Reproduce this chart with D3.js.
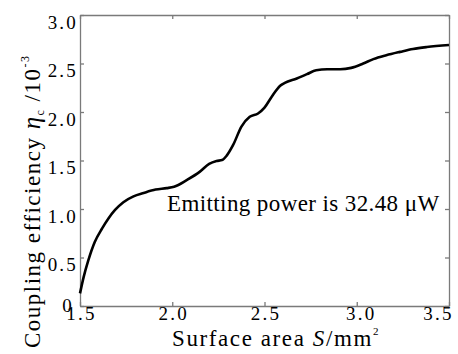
<!DOCTYPE html>
<html>
<head>
<meta charset="utf-8">
<script src="https://cdn.jsdelivr.net/npm/d3@7"></script>
<style>
  html, body { margin: 0; padding: 0; background: #fff; }
  svg text { font-family: "Liberation Serif", "Times New Roman", "DejaVu Serif", serif; fill: #000; }
</style>
</head>
<body>
<div id="chart"></div>
<script>
// surface area S (mm^2) and coupling efficiency (x10^-3)
const surfaceArea = [1.50, 1.52, 1.545, 1.58, 1.62, 1.655, 1.69, 1.735, 1.79, 1.845, 1.91, 1.97, 2.01, 2.08, 2.15, 2.20, 2.24, 2.27, 2.295, 2.33, 2.375, 2.42, 2.465, 2.50, 2.54, 2.585, 2.61, 2.675, 2.73, 2.78, 2.84, 2.91, 2.97, 3.035, 3.09, 3.16, 3.235, 3.305, 3.38, 3.50];
const efficiency = [0.13, 0.30, 0.47, 0.66, 0.80, 0.905, 0.99, 1.07, 1.13, 1.165, 1.20, 1.215, 1.23, 1.30, 1.385, 1.465, 1.495, 1.505, 1.55, 1.66, 1.85, 1.95, 1.985, 2.045, 2.16, 2.27, 2.30, 2.345, 2.39, 2.43, 2.44, 2.44, 2.455, 2.50, 2.545, 2.585, 2.62, 2.65, 2.67, 2.69];
const xTicks = [1.5, 2.0, 2.5, 3.0, 3.5];
const yTicks = [0, 0.5, 1.0, 1.5, 2.0, 2.5, 3.0];
const note = 'Emitting power is 32.48 \u03bcW';

const W = 458, H = 354;
const margin = { top: 15, right: 9, bottom: 48, left: 80 };
const width = W - margin.left - margin.right;
const height = H - margin.top - margin.bottom;
const serif = '"Liberation Serif", "Times New Roman", "DejaVu Serif", serif';

const svg = d3.select('#chart').append('svg')
  .attr('width', W)
  .attr('height', H)
  .attr('font-family', serif);

const g = svg.append('g')
  .attr('transform', `translate(${margin.left},${margin.top})`);

const x = d3.scaleLinear().domain([1.5, 3.5]).range([0, width]);
const y = d3.scaleLinear().domain([0, 3.0]).range([height, 0]);

const fmt = d => d === 0 ? '0' : d.toFixed(1);
const axisColor = '#7a7a7a';

// bottom + left axes with labels, ticks pointing inward
const xAxis = g.append('g')
  .attr('transform', `translate(0,${height})`)
  .call(d3.axisBottom(x).tickValues(xTicks).tickFormat(fmt).tickSizeInner(-4).tickSizeOuter(0).tickPadding(0));
const yAxis = g.append('g')
  .call(d3.axisLeft(y).tickValues(yTicks).tickFormat(fmt).tickSizeInner(-4).tickSizeOuter(0).tickPadding(2));

// top + right axes, ticks only
const xTop = g.append('g')
  .call(d3.axisTop(x).tickValues(xTicks).tickFormat('').tickSizeInner(-4).tickSizeOuter(0));
const yRight = g.append('g')
  .attr('transform', `translate(${width},0)`)
  .call(d3.axisRight(y).tickValues(yTicks).tickFormat('').tickSizeInner(-4).tickSizeOuter(0));

[xAxis, yAxis, xTop, yRight].forEach(a => {
  a.attr('font-family', serif).attr('font-size', 19);
  a.selectAll('path, line').attr('stroke', axisColor).attr('stroke-width', 1.3);
  a.selectAll('text').attr('fill', '#000').attr('letter-spacing', 2.2);
});
xAxis.selectAll('text').attr('dy', '0.72em').attr('dx', 1);
xAxis.selectAll('text').filter(d => d === 3.5).attr('dx', -11);
xAxis.selectAll('text').filter(d => d === 3.0).attr('dx', 4);
yAxis.selectAll('text').attr('dy', '0.7em');
yAxis.selectAll('text').filter(d => d === 0).attr('dy', '0.3em').attr('dx', -4);

// curve
const points = surfaceArea.map((s, i) => ({ s, e: efficiency[i] }));
const line = d3.line()
  .x(d => x(d.s))
  .y(d => y(d.e))
  .curve(d3.curveMonotoneX);

g.append('path')
  .datum(points)
  .attr('fill', 'none')
  .attr('stroke', '#000')
  .attr('stroke-width', 2.6)
  .attr('stroke-linejoin', 'round')
  .attr('d', line);

// annotation
svg.append('text')
  .attr('x', 167)
  .attr('y', 211)
  .attr('font-size', 23)
  .attr('letter-spacing', 0.4)
  .text(note);

// x label
const xl = svg.append('text')
  .attr('x', 172)
  .attr('y', 346)
  .attr('font-size', 23)
  .attr('letter-spacing', 1.6);
xl.append('tspan').text('Surface area ');
xl.append('tspan').attr('font-style', 'italic').text('S');
xl.append('tspan').text('/mm');
xl.append('tspan').attr('dy', -11).attr('font-size', 11).text('2');

// y label
const yl = svg.append('text')
  .attr('transform', 'translate(40,348) rotate(-90)')
  .attr('font-size', 23)
  .attr('letter-spacing', 1.5);
yl.append('tspan').text('Coupling efficiency ');
yl.append('tspan').attr('font-style', 'italic').attr('font-size', 25).text('\u03b7');
yl.append('tspan').attr('dy', 4).attr('font-size', 12).text('c');
yl.append('tspan').attr('dy', -4).text(' /10');
yl.append('tspan').attr('dy', -11).attr('font-size', 12).text('-3');
</script>
</body>
</html>
